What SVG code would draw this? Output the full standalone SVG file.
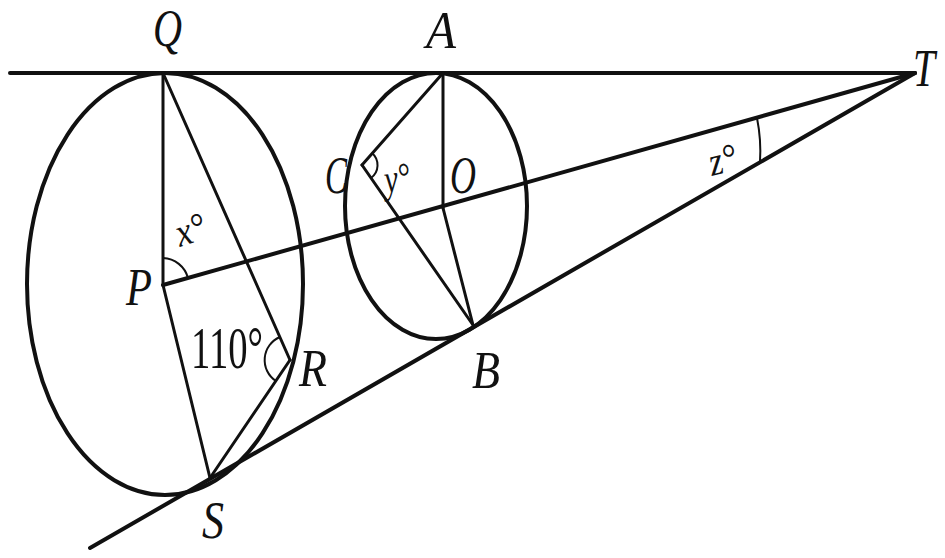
<svg xmlns="http://www.w3.org/2000/svg" width="945" height="558" viewBox="0 0 945 558">
<style>
.th{fill:none;stroke:#111;stroke-width:4;stroke-linecap:round}
.md{fill:none;stroke:#111;stroke-width:3;stroke-linecap:round}
.ar{fill:none;stroke:#111;stroke-width:2}
.lb{font-family:"Liberation Serif","DejaVu Serif",serif;font-style:italic;font-size:52px;fill:#111}
.sm{font-family:"Liberation Serif","DejaVu Serif",serif;font-style:italic;font-size:40px;fill:#111}
.nm{font-family:"Liberation Serif","DejaVu Serif",serif;font-size:60px;fill:#111}
</style>
<rect width="945" height="558" fill="#fff"/>
<g id="circles">
<ellipse class="th" cx="165" cy="284" rx="138" ry="211"/>
<ellipse class="th" cx="436" cy="206" rx="91" ry="133"/>
</g>
<g id="lines">
<line class="th" x1="10" y1="73" x2="915" y2="73"/>
<line class="th" x1="163" y1="285" x2="915" y2="73"/>
<line class="th" x1="90" y1="548" x2="915" y2="73"/>
<line class="md" x1="163" y1="73" x2="163" y2="285"/>
<line class="md" x1="163" y1="73" x2="290" y2="360"/>
<line class="md" x1="163" y1="285" x2="210" y2="478"/>
<line class="md" x1="210" y1="478" x2="290" y2="360"/>
<line class="md" x1="443" y1="73" x2="443" y2="208"/>
<line class="md" x1="443" y1="208" x2="473" y2="325"/>
<line class="md" x1="362" y1="165" x2="443" y2="73"/>
<line class="md" x1="362" y1="165" x2="473" y2="325"/>
</g>
<g id="arcs">
<path class="ar" d="M163,258 A27,27 0 0 1 188,278"/>
<path class="ar" d="M280,337 A25,25 0 0 0 276,381"/>
<path class="ar" d="M372,153 A16,16 0 0 1 371,178"/>
<path class="ar" d="M757,118 A170,170 0 0 1 760,162"/>
</g>
<g id="labels">
<text class="lb" x="153" y="46" textLength="29" lengthAdjust="spacingAndGlyphs">Q</text>
<text class="lb" x="426" y="48" textLength="30" lengthAdjust="spacingAndGlyphs">A</text>
<text class="lb" x="913" y="86" textLength="22" lengthAdjust="spacingAndGlyphs">T</text>
<text class="lb" x="325" y="193" textLength="22" lengthAdjust="spacingAndGlyphs">C</text>
<text class="lb" x="450" y="193" textLength="26" lengthAdjust="spacingAndGlyphs">O</text>
<text class="sm" transform="translate(386,193) rotate(-8)" textLength="26" lengthAdjust="spacingAndGlyphs">y°</text>
<text class="lb" x="126" y="305" textLength="26" lengthAdjust="spacingAndGlyphs">P</text>
<text class="nm" x="191" y="368" textLength="72" lengthAdjust="spacingAndGlyphs">110°</text>
<text class="lb" x="299" y="386" textLength="28" lengthAdjust="spacingAndGlyphs">R</text>
<text class="lb" x="472" y="388" textLength="28" lengthAdjust="spacingAndGlyphs">B</text>
<text class="lb" x="202" y="538" textLength="22" lengthAdjust="spacingAndGlyphs">S</text>
<text class="sm" transform="translate(180,247) rotate(-18)" textLength="30" lengthAdjust="spacingAndGlyphs">x°</text>
<text class="sm" transform="translate(712,176) rotate(-14)" textLength="28" lengthAdjust="spacingAndGlyphs">z°</text>
</g>
</svg>
